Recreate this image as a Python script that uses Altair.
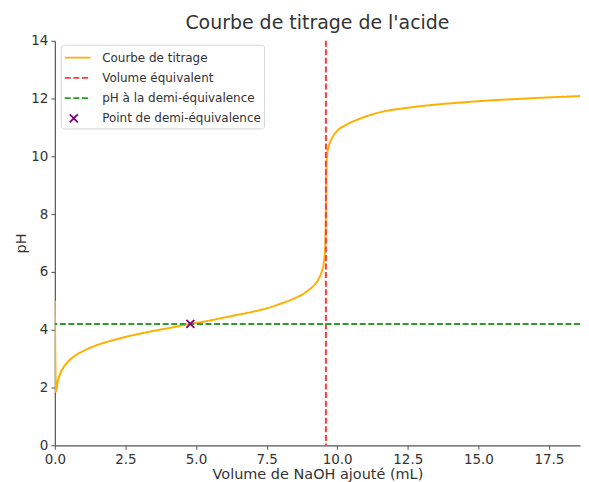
import altair as alt
import pandas as pd

# Titration curve
volume = [0.0, 0.04, 0.1, 0.2, 0.4, 0.7, 1.0, 1.5, 2.0, 2.5, 3.0, 3.5, 4.0, 4.8,
          5.5, 6.0, 6.5, 7.0, 7.5, 8.0, 8.5, 8.8, 9.0, 9.2, 9.35, 9.45, 9.52,
          9.56, 9.58, 9.60, 9.61, 9.62, 9.65, 9.7, 9.8, 10.0, 10.3, 10.8, 11.5,
          12.5, 13.5, 14.5, 15.5, 16.5, 17.5, 18.5, 19.2]
ph = [5.0, 1.85, 2.2, 2.5, 2.82, 3.09, 3.26, 3.47, 3.62, 3.75, 3.86, 3.96, 4.05, 4.20,
      4.32, 4.42, 4.52, 4.62, 4.74, 4.90, 5.09, 5.24, 5.38, 5.56, 5.77, 6.00, 6.28,
      6.58, 6.9, 8.0, 9.0, 9.7, 10.1, 10.35, 10.6, 10.88, 11.08, 11.3, 11.52,
      11.68, 11.79, 11.87, 11.94, 11.99, 12.04, 12.08, 12.11]

v_eq = [9.6]
v_half = [4.8]
ph_half = [4.2]

series = ["Courbe de titrage", "Volume équivalent", "pH à la demi-équivalence",
          "Point de demi-équivalence"]
colors = ["#ffb000", "#ff3c3c", "#2a9d2a", "#800080"]
x_ticks = [0.0, 2.5, 5.0, 7.5, 10.0, 12.5, 15.0, 17.5]
y_ticks = [0, 2, 4, 6, 8, 10, 12, 14]

line_path = "M-0.95,0H1.79"
x_path = "M-0.42,-0.42L0.42,0.42M-0.42,0.42L0.42,-0.42"
dashes = [[1, 0], [6, 2.6], [6, 2.6], [1, 0]]

curve_df = pd.DataFrame({"V": volume, "pH": ph, "s": series[0]})
veq_df = pd.DataFrame({"V": v_eq, "s": [series[1]]})
half_df = pd.DataFrame({"pH": ph_half, "s": [series[2]]})
pt_df = pd.DataFrame({"V": v_half, "pH": ph_half, "s": [series[3]]})

xscale = alt.Scale(domain=[0, 18.6], nice=False, zero=False)
yscale = alt.Scale(domain=[0, 14], nice=False)
xaxis = alt.Axis(values=x_ticks, format=".1f", title="Volume de NaOH ajouté (mL)",
                 grid=False, labelFlush=False)
yaxis = alt.Axis(values=y_ticks, title="pH", grid=False, labelFlush=False)

leg = alt.Legend(title=None, orient="none", legendX=6, legendY=4, symbolSize=361,
                 symbolStrokeWidth=1.8, symbolFillColor="transparent",
                 labelOffset=18, rowPadding=3.3, padding=2.5)

color = alt.Color("s:N", scale=alt.Scale(domain=series, range=colors), legend=leg)
dash = alt.StrokeDash("s:N", scale=alt.Scale(domain=series, range=dashes), legend=leg)
shape = alt.Shape("s:N", scale=alt.Scale(domain=series, range=[line_path] * 3 + [x_path]), legend=leg)

curve = alt.Chart(curve_df).mark_line(strokeWidth=2, clip=True, interpolate="monotone").encode(
    x=alt.X("V:Q", scale=xscale, axis=xaxis),
    y=alt.Y("pH:Q", scale=yscale, axis=yaxis),
    color=color, strokeDash=dash)

veq = alt.Chart(veq_df).mark_rule(strokeWidth=2).encode(
    x=alt.X("V:Q"), color=color, strokeDash=dash)

half = alt.Chart(half_df).mark_rule(strokeWidth=2).encode(
    y=alt.Y("pH:Q"), color=color, strokeDash=dash)

pt = alt.Chart(pt_df).mark_point(filled=False, size=361, strokeWidth=1.8, opacity=1).encode(
    x=alt.X("V:Q"), y=alt.Y("pH:Q"), color=color, shape=shape)

chart = alt.layer(curve, veq, half, pt).properties(
    width=527, height=406,
    title="Courbe de titrage de l'acide",
    padding={"left": 5, "top": 5, "right": 0, "bottom": 0},
).configure_view(stroke=None).configure_title(
    font="DejaVu Sans", fontSize=19, fontWeight="normal", color="#333333", offset=1
).configure_axis(
    labelFont="DejaVu Sans", titleFont="DejaVu Sans", labelFontSize=13.5, titleFontSize=14.5,
    titleFontWeight="normal", labelColor="#333333", titleColor="#333333",
    domainColor="#555555", tickColor="#555555", tickSize=4, labelPadding=3,
    domainWidth=1.2
).configure_axisY(titlePadding=2).configure_axisX(titlePadding=2).configure_legend(
    labelFont="DejaVu Sans", labelFontSize=12, labelColor="#333333",
    fillColor="rgba(255,255,255,0.8)", strokeColor="#d5d5d5", cornerRadius=3
)

chart.save("out.html", embed_options={"renderer": "svg", "actions": False})
